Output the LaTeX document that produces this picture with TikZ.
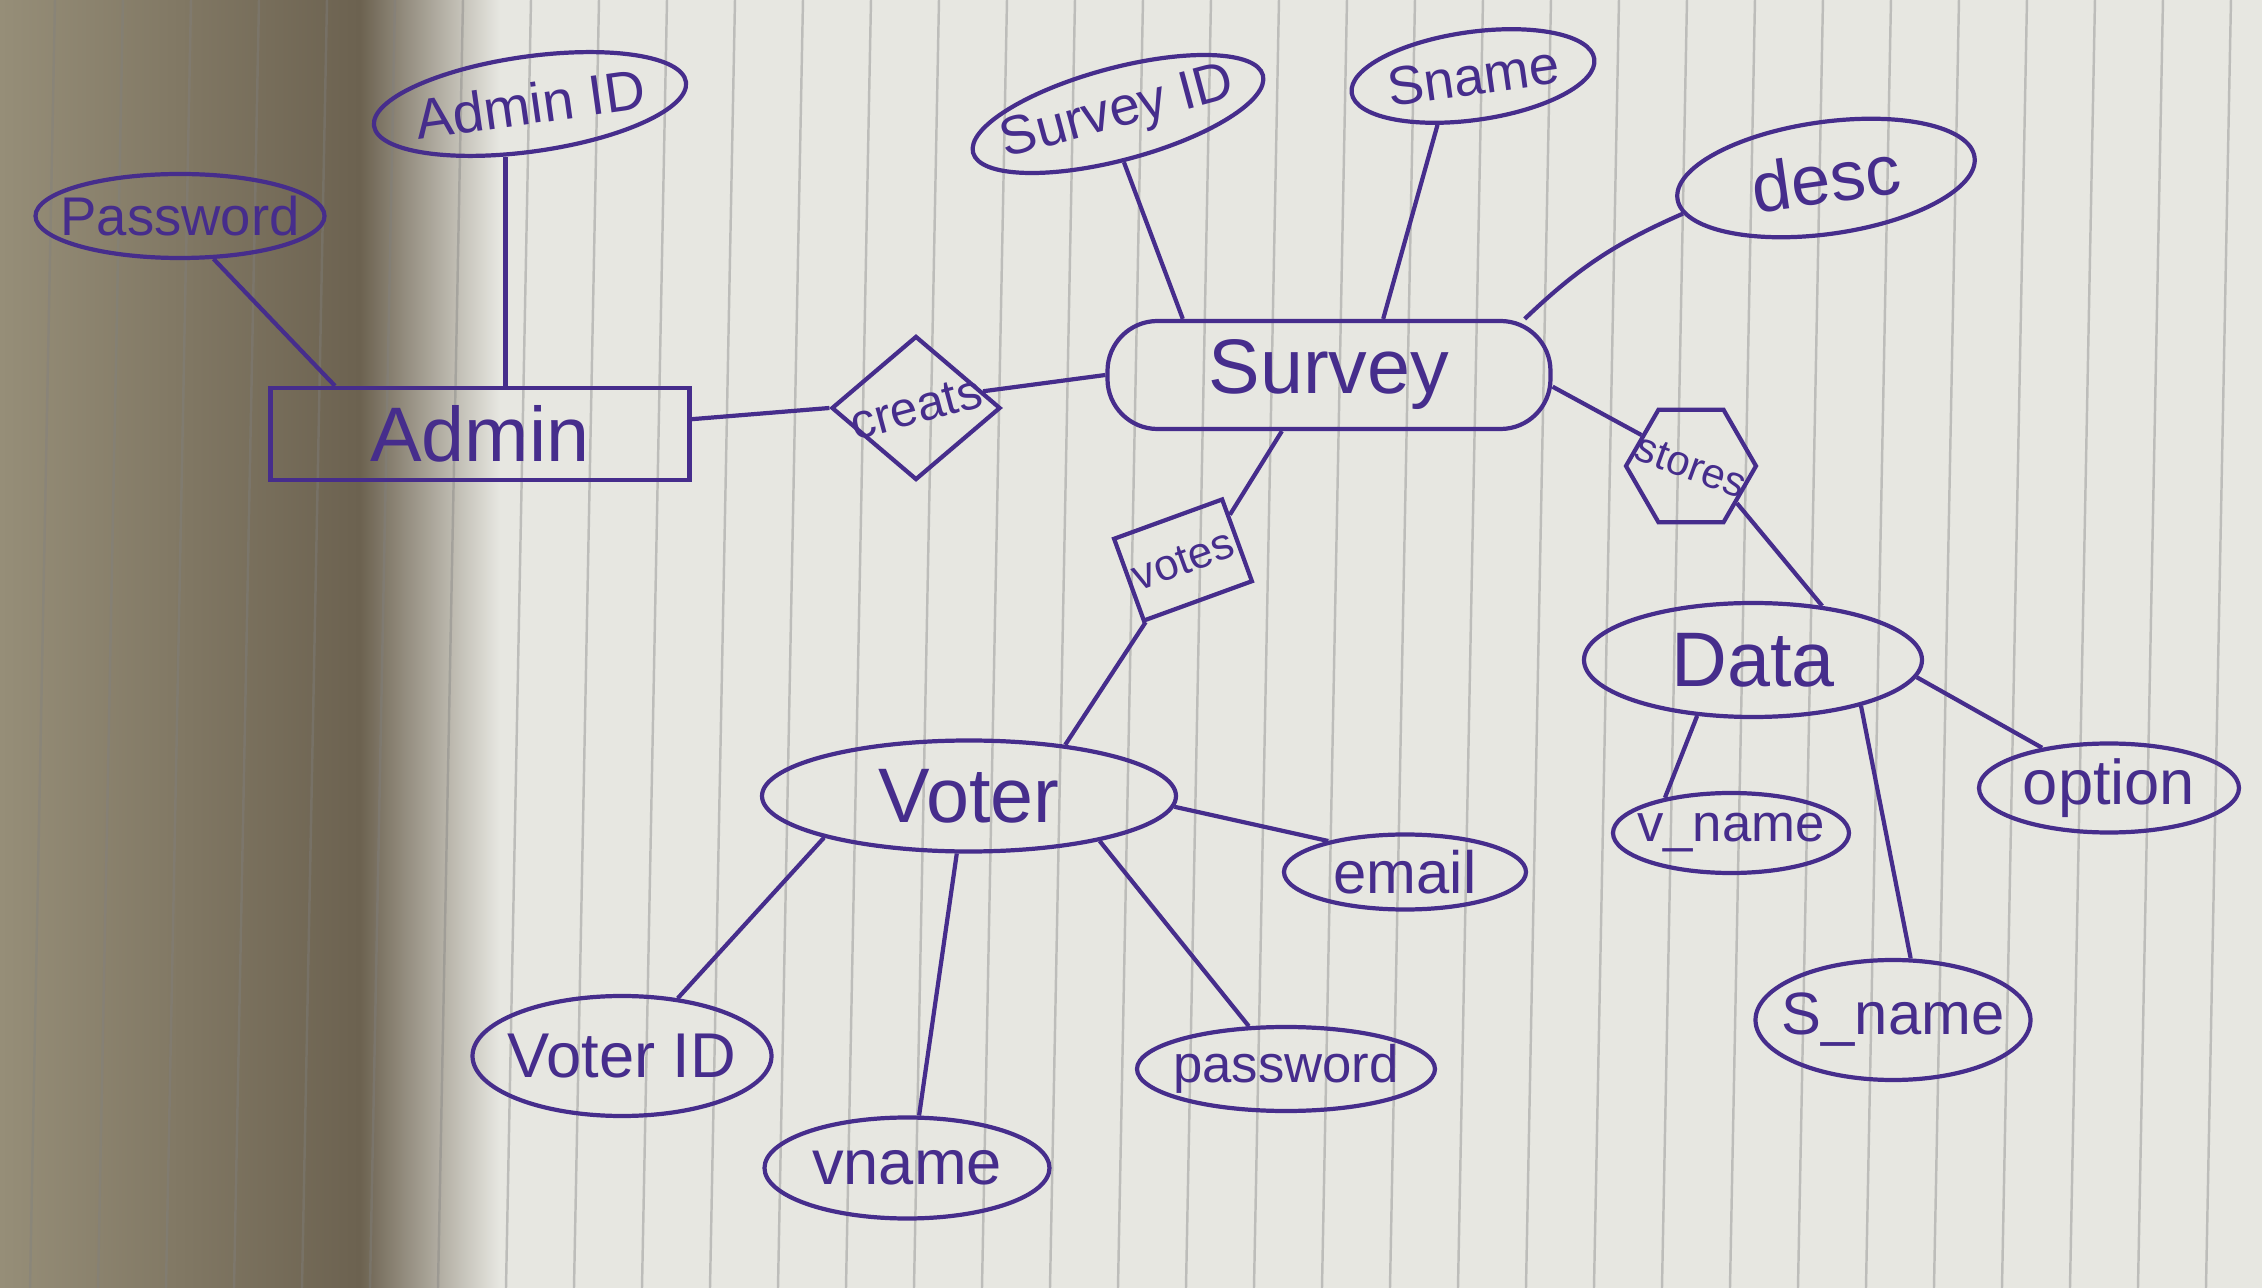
\documentclass[tikz,border=0pt]{standalone}
\usepackage{fontspec}
\setmainfont{Liberation Sans}
\usepackage{graphicx}
\usetikzlibrary{shapes.geometric}

\definecolor{ink}{RGB}{70,45,140}
\definecolor{paper}{RGB}{231,231,225}
\definecolor{shadowA}{RGB}{150,142,120}
\definecolor{shadowB}{RGB}{108,98,80}
\newcommand{\snug}[1]{\makebox[0pt]{#1}}

\begin{document}
\begin{tikzpicture}[line width=1.2pt, color=ink,
  entity/.style={draw, ellipse, inner sep=0pt, font=\fontsize{22}{24}\selectfont},
  attr/.style={draw, ellipse, inner sep=0pt, font=\fontsize{17}{19}\selectfont},
  rel/.style={draw, diamond, inner sep=0pt, font=\fontsize{14}{16}\selectfont}]

  % notebook page
  \useasboundingbox (0,0) rectangle (22.62,-12.88);
  \shade[left color=shadowA, right color=shadowB] (0,0) rectangle (3.6,-12.88);
  \shade[left color=shadowB, right color=paper] (3.6,0) rectangle (5.0,-12.88);
  \fill[paper] (5.0,0) rectangle (22.62,-12.88);
  \foreach \x in {0.3,0.98,...,22.6}
    \draw[line width=0.7pt, gray, opacity=0.4] (\x+0.25,0) -- (\x,-12.88);

  \node[attr, minimum width=2.89cm, minimum height=0.84cm, font=\fontsize{15.5}{17}\selectfont] (pw) at (1.80,-2.16) {\snug{Password}};
  \node[attr, rotate=8, minimum width=3.15cm, minimum height=0.95cm, font=\fontsize{16}{18}\selectfont] (aid) at (5.30,-1.04) {\snug{Admin ID}};
  \node[draw, inner sep=0pt, font=\fontsize{22}{24}\selectfont, minimum width=4.19cm, minimum height=0.92cm] (admin) at (4.80,-4.34) {Admin};
  \node[rel, minimum width=1.69cm, minimum height=1.44cm] (creats) at (9.16,-4.08) {\snug{\rotatebox{15}{creats}}};
  \node[entity, rectangle, rounded corners=0.5cm, minimum width=4.43cm, minimum height=1.08cm] (survey) at (13.29,-3.75) {Survey};

  \node[attr, rotate=15, minimum width=3.0cm, minimum height=0.92cm, font=\fontsize{15.5}{17}\selectfont] (sid) at (11.18,-1.14) {\snug{Survey ID}};
  \node[attr, rotate=8, minimum width=2.45cm, minimum height=0.88cm, font=\fontsize{15.5}{17}\selectfont] (sname) at (14.73,-0.76) {\snug{Sname}};
  \node[attr, rotate=8, minimum width=3.0cm, minimum height=1.12cm, font=\fontsize{20}{22}\selectfont] (desc) at (18.26,-1.78) {\snug{desc}};
  \node[rel, regular polygon, regular polygon sides=6, minimum size=1.3cm, font=\fontsize{12}{14}\selectfont] (stores) at (16.91,-4.66) {\snug{\rotatebox{-20}{stores}}};
  \node[rel, rectangle, rotate=20, minimum width=1.15cm, minimum height=0.87cm, font=\fontsize{12.5}{14}\selectfont] (votes) at (11.83,-5.60) {\snug{votes}};

  \node[entity, minimum width=3.38cm, minimum height=1.14cm] (data) at (17.53,-6.60) {Data};
  \node[attr, minimum width=2.60cm, minimum height=0.89cm, font=\fontsize{18}{20}\selectfont] (option) at (21.09,-7.88) {\snug{option}};
  \node[attr, minimum width=2.36cm, minimum height=0.80cm, font=\fontsize{15}{17}\selectfont] (vn) at (17.31,-8.33) {\snug{v\_name}};
  \node[attr, minimum width=2.75cm, minimum height=1.20cm] (sn) at (18.93,-10.20) {\snug{S\_name}};

  \node[entity, minimum width=4.14cm, minimum height=1.11cm] (voter) at (9.69,-7.96) {Voter};
  \node[attr, minimum width=2.42cm, minimum height=0.75cm, font=\fontsize{17}{19}\selectfont] (email) at (14.05,-8.72) {\snug{email}};
  \node[attr, minimum width=2.99cm, minimum height=1.2cm, font=\fontsize{18}{20}\selectfont] (vid) at (6.22,-10.56) {\snug{Voter ID}};
  \node[attr, minimum width=2.98cm, minimum height=0.84cm, font=\fontsize{15}{17}\selectfont] (vpw) at (12.86,-10.69) {\snug{password}};
  \node[attr, minimum width=2.85cm, minimum height=1.01cm, font=\fontsize{18}{20}\selectfont] (vname) at (9.07,-11.68) {\snug{vname}};

  \path (pw.-52) edge ([xshift=-1.45cm]admin.north)
        (aid.237) edge (aid.237 |- admin.north)
        (admin.4) edge (creats.west)
        (creats.14) edge (survey.west)
        (sid.-98) edge (survey.159)
        (sname.226) edge (survey.46)
        (desc.186) edge[bend right=10] (survey.16)
        (survey.-3) edge (stores.148)
        (stores.-39) edge (data.38)
        (survey.230) edge (votes.24)
        (votes.219) edge (voter.28)
        (data.225) edge (vn.152)
        (data.-23) edge (sn.74)
        (data.-6) edge (option.149)
        (voter.-3) edge (email.158)
        (voter.196) edge (vid.46)
        (voter.258) edge (vname.77)
        (voter.-19) edge (vpw.131);
\end{tikzpicture}
\end{document}
